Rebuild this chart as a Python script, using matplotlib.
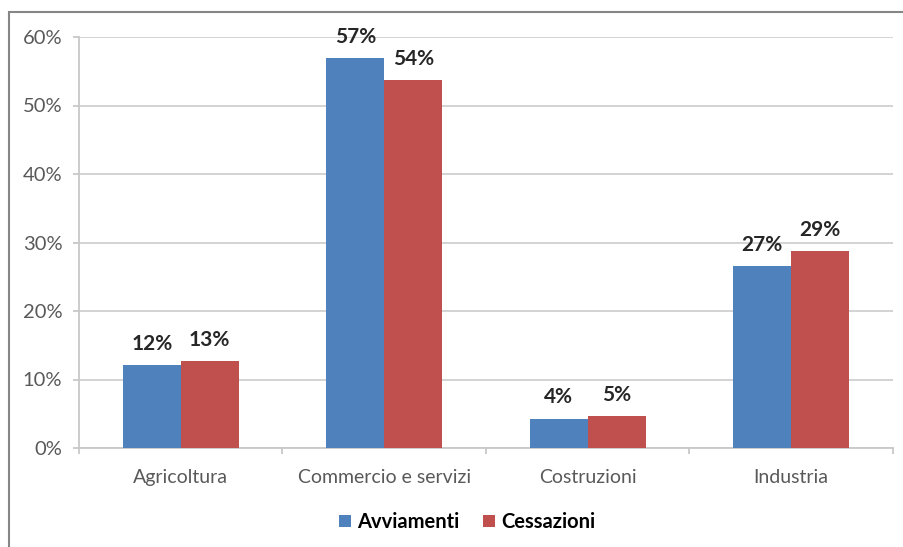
import matplotlib.pyplot as plt
import matplotlib.patches as mpatches
import numpy as np

plt.rcParams['font.family'] = ['Lato', 'DejaVu Sans']

settori = ["Agricoltura", "Commercio e servizi", "Costruzioni", "Industria"]
avviamenti = [0.121, 0.569, 0.043, 0.266]
cessazioni = [0.127, 0.537, 0.047, 0.287]
serie = ["Avviamenti", "Cessazioni"]
colori = ["#4F81BD", "#C0504D"]
y_ticks = [0.0, 0.1, 0.2, 0.3, 0.4, 0.5, 0.6]


def main():
    fig = plt.figure(figsize=(9.04, 5.47), dpi=100)
    ax = fig.add_axes([79 / 904, 99 / 547, 814 / 904, 411 / 547])

    # chart frame (right and bottom edges fall outside the image)
    frame = mpatches.Rectangle((9 / 904, -0.1), 1.2, 0.1 + 535 / 547,
                               transform=fig.transFigure, fill=False,
                               edgecolor="#868686", linewidth=1.5,
                               clip_on=False, zorder=0)
    fig.patches.append(frame)

    x = np.arange(len(settori))
    w = 0.285
    for i, (vals, nome, col) in enumerate(zip([avviamenti, cessazioni], serie, colori)):
        pos = x + (i - 0.5) * w
        bars = ax.bar(pos, vals, width=w, color=col, label=nome, zorder=3)
        for b, v in zip(bars, vals):
            ax.annotate(f"{v:.0%}", (b.get_x() + b.get_width() / 2, v),
                        xytext=(0, 11), textcoords="offset points",
                        ha="center", va="baseline", fontsize=15,
                        fontweight="bold", color="#262626")

    ax.set_xlim(-0.5, len(settori) - 0.5)
    ax.set_ylim(0, 0.6)
    ax.set_yticks(y_ticks)
    ax.set_yticklabels([f"{t:.0%}" for t in y_ticks])
    ax.set_xticks(x)
    ax.set_xticklabels(settori)
    ax.set_xticks(np.arange(len(settori) + 1) - 0.5, minor=True)

    ax.yaxis.grid(True, color="#D0D0D0", linewidth=1.3, zorder=0)
    ax.set_axisbelow(True)
    for s in ["top", "right"]:
        ax.spines[s].set_visible(False)
    for s in ["left", "bottom"]:
        ax.spines[s].set_color("#C8C8C8")
        ax.spines[s].set_linewidth(1.3)

    ax.tick_params(axis="y", length=4, color="#C8C8C8", width=1.3, pad=8,
                   labelsize=14.5, labelcolor="#595959")
    ax.tick_params(axis="x", which="major", length=0, pad=15,
                   labelsize=14, labelcolor="#595959")
    ax.tick_params(axis="x", which="minor", length=4, color="#C8C8C8", width=1.3)

    fig.legend(loc="center", bbox_to_anchor=(467 / 904, 1 - 522 / 547), ncol=2,
               frameon=False, handlelength=0.6, handleheight=0.6,
               handletextpad=0.3, columnspacing=1.2,
               prop={"weight": "bold", "size": 14.5})

    fig.savefig("out.png", dpi=100)


if __name__ == "__main__":
    main()
